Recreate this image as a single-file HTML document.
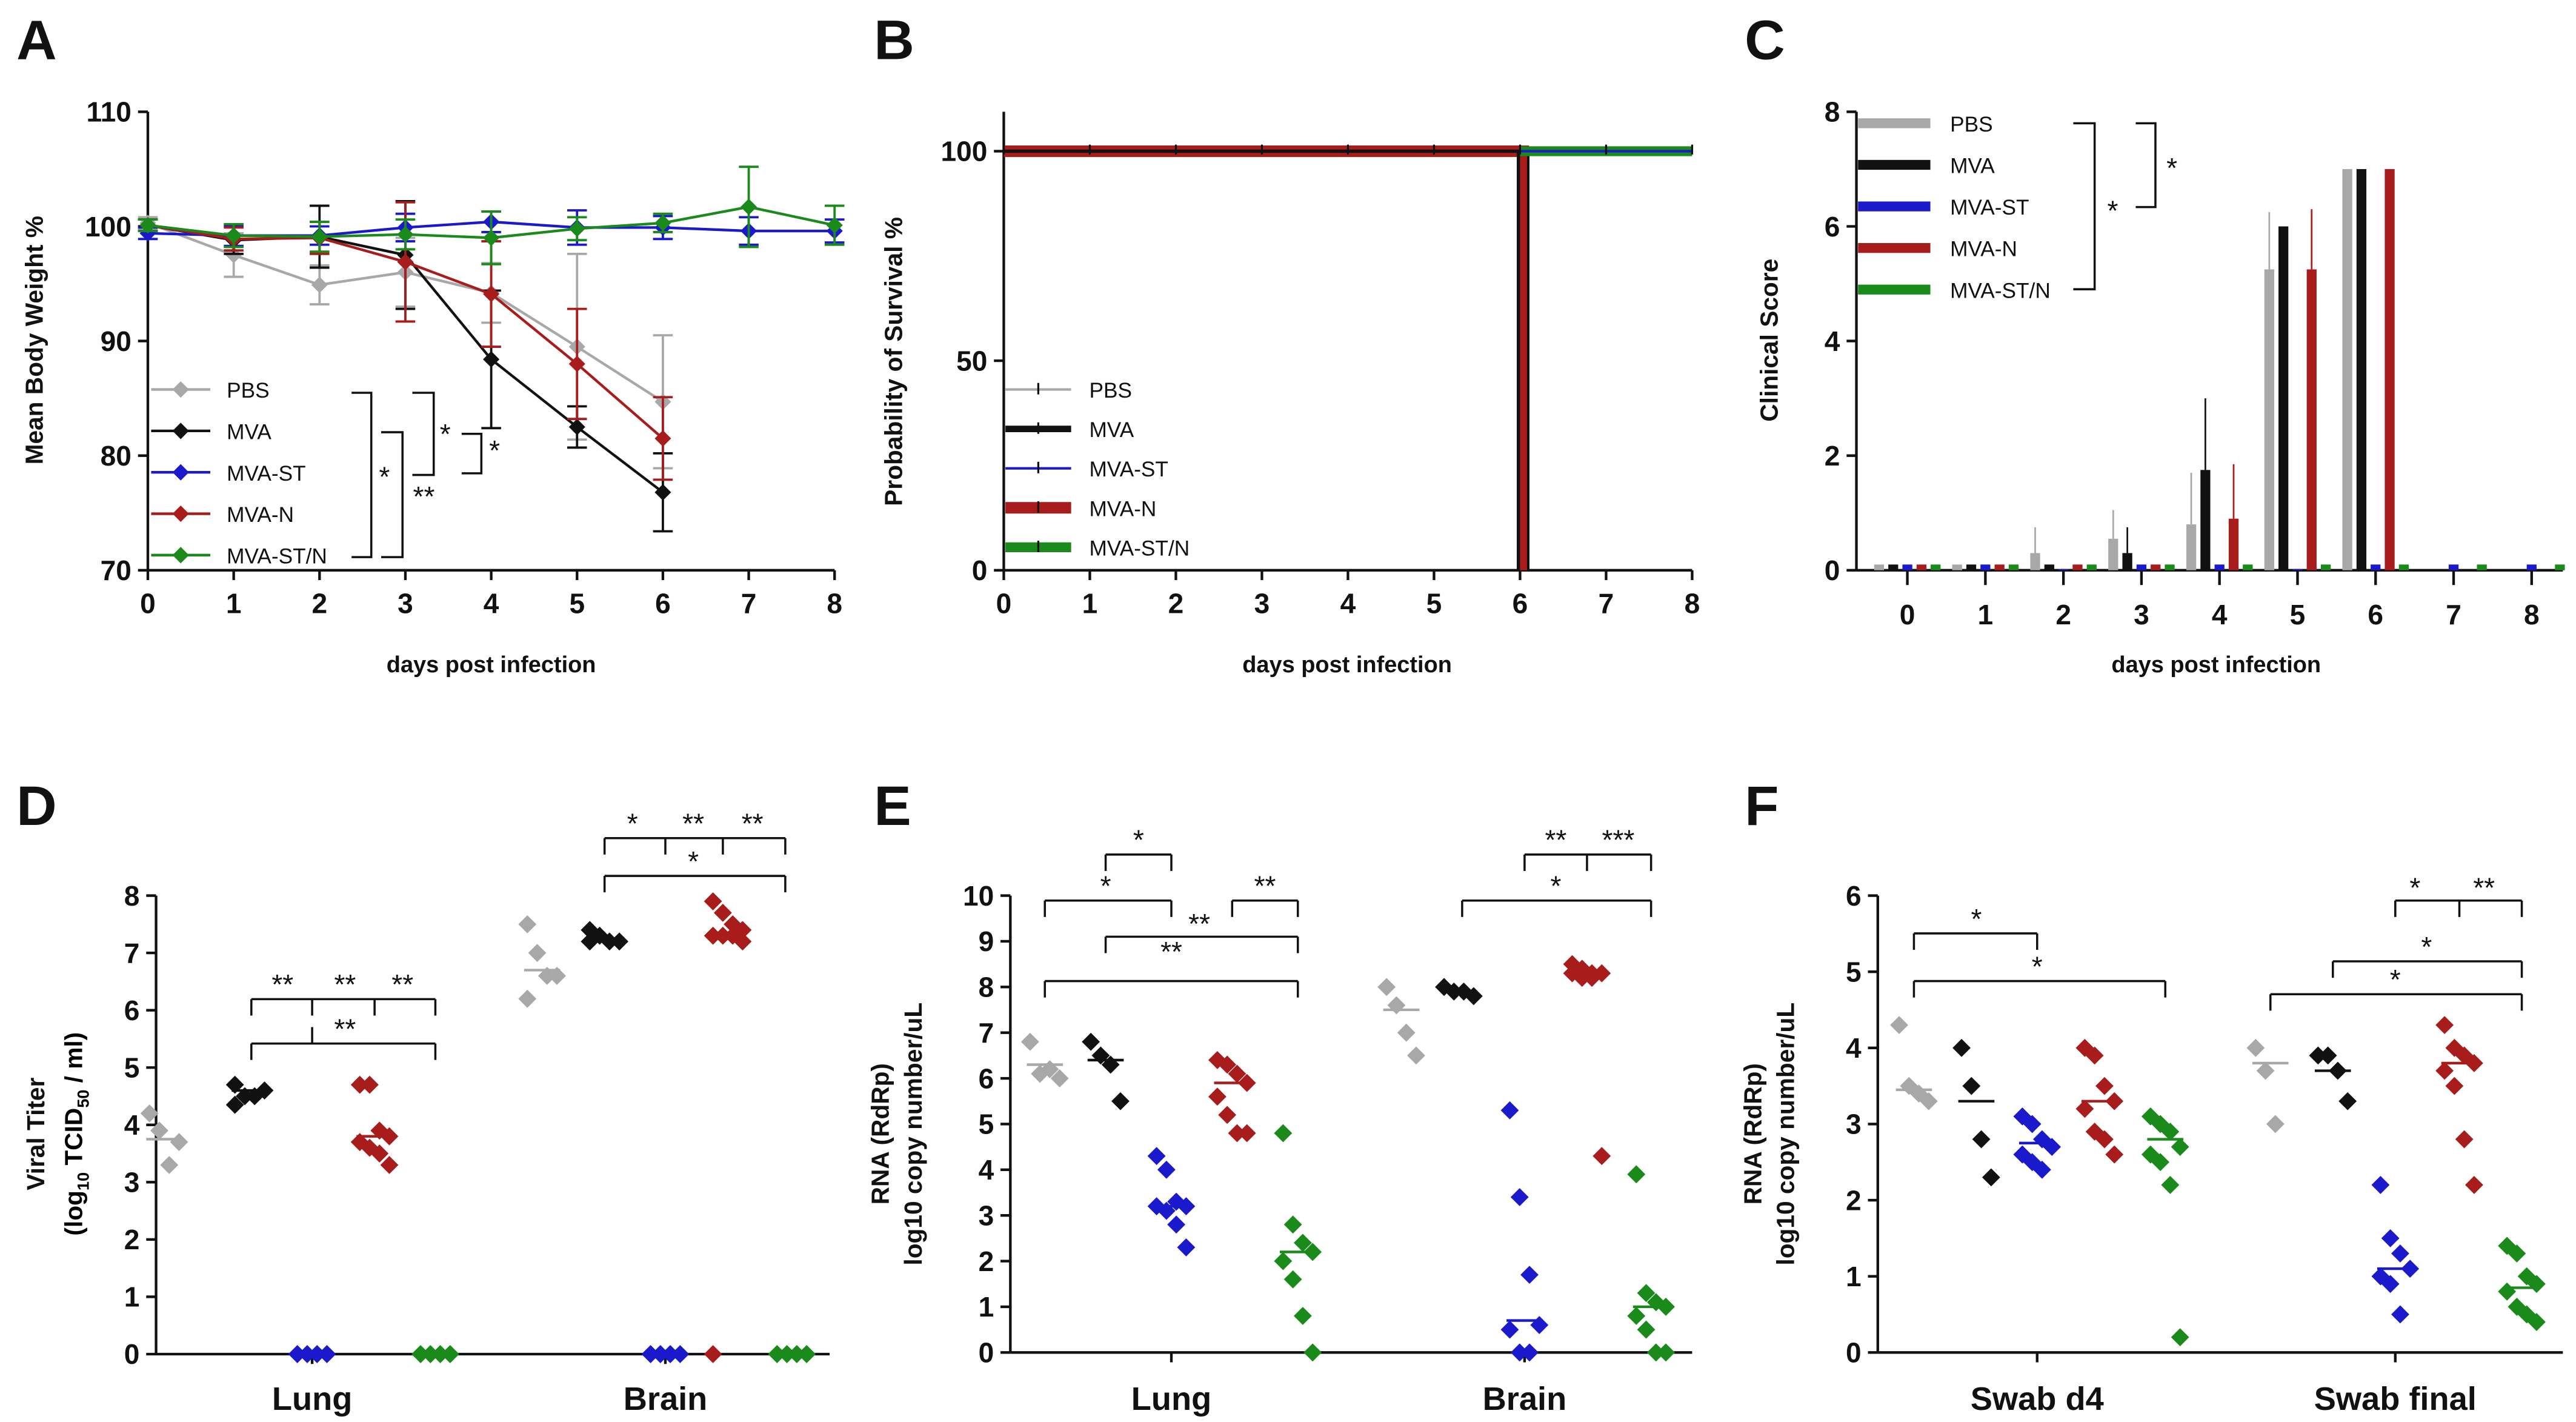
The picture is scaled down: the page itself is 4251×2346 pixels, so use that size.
<!DOCTYPE html>
<html><head><meta charset="utf-8"><style>html,body{margin:0;padding:0;background:#fff}svg{display:block}</style></head>
<body>
<svg id="fig" xmlns="http://www.w3.org/2000/svg" width="4251" height="2346" viewBox="0 0 1568 865.3" font-family="'Liberation Sans', sans-serif">
<rect width="1568" height="866" fill="#fff"/>
</svg>
<script>
// ---------- data ----------
const groups = ["PBS","MVA","MVA-ST","MVA-N","MVA-ST/N"];
const colors = ["#a8a8a8","#111111","#1a1acc","#a81c1c","#1a8a1a"];
const days = [0,1,2,3,4,5,6,7,8];
// Panel A means and SD
const wPBS  = [100.3,97.5,94.9,96.0,94.2,89.5,84.7];
const wMVA  = [100.1,98.8,99.1,97.5,88.4,82.5,76.8];
const wST   = [99.4,99.2,99.2,99.9,100.4,99.9,99.9,99.6,99.6];
const wN    = [100.1,98.9,99.0,96.9,94.1,88.0,81.5];
const wSTN  = [100.1,99.2,99.1,99.3,99.0,99.8,100.3,101.7,100.1];
const ePBS  = [0.5,1.9,1.7,3.0,2.6,8.1,5.8];
const eMVA  = [0.5,1.2,2.7,4.7,6.0,1.8,3.4];
const eST   = [0.5,0.9,0.8,1.2,0.9,1.5,1.0,1.2,1.0];
const eN    = [0.5,1.0,1.4,5.2,4.6,4.8,3.6];
const eSTN  = [0.5,1.0,1.3,1.3,2.3,1.0,0.8,3.5,1.7];
// Panel C clinical score
const cPBS = [0.1,0.1,0.3,0.55,0.8,5.25,7,0,0];
const cMVA = [0.1,0.1,0.1,0.3,1.75,6,7,0,0];
const cST  = [0.1,0.1,0.02,0.1,0.1,0.02,0.1,0.1,0.1];
const cN   = [0.1,0.1,0.1,0.1,0.9,5.25,7,0,0];
const cSTN = [0.1,0.1,0.1,0.1,0.1,0.1,0.1,0.1,0.1];
const ceP  = [0,0,0.45,0.5,0.9,1.0,0,0,0];
const ceM  = [0,0,0,0.45,1.25,0,0,0,0];
const ceN  = [0,0,0,0,0.95,1.05,0,0,0];
// Panel D viral titer
const dLung = [[4.2,3.9,3.3,3.7],[4.7,4.5,4.5,4.6,4.35],[0,0,0,0,0,0,0,0],[4.7,4.7,3.9,3.8,3.7,3.6,3.5,3.3],[0,0,0,0,0,0,0,0]];
const dBrain = [[7.5,7.0,6.6,6.6,6.2],[7.4,7.3,7.2,7.2,7.2],[0,0,0,0,0,0,0],[7.9,7.7,7.5,7.4,7.3,7.3,7.3,7.2,0],[0,0,0,0,0,0,0,0]];
const dMeanL = [3.75,4.6,0,3.8,0];
const dMeanB = [6.7,7.25,0,7.35,0];
// Panel E RNA
const eLung = [[6.8,6.1,6.2,6.0],[6.8,6.5,6.3,5.5],[4.3,4.0,3.3,3.2,3.2,3.1,2.8,2.3],[6.4,6.3,6.1,5.9,5.6,5.2,4.8,4.8],[4.8,2.8,2.4,2.2,2.0,1.6,0.8,0.0]];
const eBrain = [[8.0,7.6,7.0,6.5],[8.0,7.9,7.9,7.8],[5.3,3.4,1.7,0.6,0.5,0.0,0.0],[8.5,8.4,8.3,8.3,8.3,8.2,8.2,4.3],[3.9,1.3,1.1,1.0,0.8,0.5,0.0,0.0]];
const eMeanL = [6.3,6.4,3.2,5.9,2.2];
const eMeanB = [7.5,7.9,0.7,8.3,1.0];
// Panel F RNA swabs
const fD4 = [[4.3,3.5,3.4,3.3],[4.0,3.5,2.8,2.3],[3.1,3.0,2.8,2.7,2.6,2.5,2.4],[4.0,3.9,3.5,3.3,3.2,2.9,2.8,2.6],[3.1,3.0,2.9,2.7,2.6,2.5,2.2,0.2]];
const fFin = [[4.0,3.7,3.0],[3.9,3.9,3.7,3.3],[2.2,1.5,1.3,1.1,1.0,0.9,0.5],[4.3,4.0,3.9,3.8,3.7,3.5,2.8,2.2],[1.4,1.3,1.0,0.9,0.8,0.6,0.5,0.4]];
const fMeanD4 = [3.45,3.3,2.75,3.3,2.8];
const fMeanFin = [3.8,3.7,1.1,3.8,0.85];
const tA = [70,80,90,100,110];
const tB = [0,50,100];
const tC = [0,2,4,6,8];
const tD = [0,1,2,3,4,5,6,7,8];
const tE = [0,1,2,3,4,5,6,7,8,9,10];
const tF = [0,1,2,3,4,5,6];

// ---------- helpers ----------
const svg = document.getElementById('fig');
const NS = "http://www.w3.org/2000/svg";
function mk(tag, attrs, name, parent){
  const e = document.createElementNS(NS, tag);
  for (const k in attrs) e.setAttribute(k, attrs[k]);
  
  
  (parent||svg).appendChild(e);
  return e;
}
function txt(x,y,s,size,name,opt){
  opt = opt||{};
  const t = mk('text',{x:x,y:y,'font-size':size,'font-weight':opt.w||'bold','text-anchor':opt.a||'middle',fill:opt.f||'#111'},name);
  if (opt.rot) t.setAttribute('transform','rotate(-90 '+x+' '+y+')');
  t.textContent = s;
  return t;
}
function ln(x1,y1,x2,y2,c,w,name){ return mk('line',{x1:x1,y1:y1,x2:x2,y2:y2,stroke:c,'stroke-width':w},name); }
function dia(x,y,r,c,name){ return mk('path',{d:`M${x} ${y-r}L${x+r} ${y}L${x} ${y+r}L${x-r} ${y}Z`,fill:c},name); }
function yAxis(x,y0,y1,ticks,sc,name){
  ln(x,y0,x,y1,'#111',1.6,name+'-line');
  ticks.forEach(t=>{ ln(x-6,sc(t),x,sc(t),'#111',1.6,name+'-tick'); txt(x-10,sc(t)+6,String(t),17,name+'-label',{a:'end'}); });
}
function bracket(x1,x2,y,ticks,name){
  ln(x1,y,x2,y,'#111',1.3,name);
  ticks.forEach(t=>ln(t,y,t,y+10,'#111',1.3,name+'-tick'));
}
function star(x,y,s,name){ txt(x,y,s,17,name,{w:'normal'}); }

// ---------- panel letters ----------
[['A',10,36],['B',532,36],['C',1062,36],['D',10,502],['E',532,502],['F',1062,502]].forEach(p=>txt(p[1],p[2],p[0],34,'panel-label-'+p[0].toLowerCase(),{a:'start'}));

// ---------- Panel A ----------
{
  const X = d=>90+d*(418/8), Y = v=>347-(v-70)*(279/40);
  yAxis(90,68,347,tA,Y,'a-y-axis');
  ln(90,347,508,347,'#111',1.6,'a-x-axis');
  days.forEach(d=>{ ln(X(d),347,X(d),353,'#111',1.6,'a-x-tick'); txt(X(d),373,String(d),17,'a-x-label'); });
  txt(299,409,'days post infection',14,'a-x-title');
  txt(26,207,'Mean Body Weight %',15,'a-y-title',{rot:true});
  const ser=[wPBS,wMVA,wST,wN,wSTN], err=[ePBS,eMVA,eST,eN,eSTN];
  ser.forEach((s,g)=>{
    const c=colors[g];
    s.forEach((v,i)=>{ const x=X(i); ln(x,Y(v-err[g][i]),x,Y(v+err[g][i]),c,1.4,'a-errorbar-'+groups[g]); ln(x-6,Y(v-err[g][i]),x+6,Y(v-err[g][i]),c,1.4,'a-errorcap'); ln(x-6,Y(v+err[g][i]),x+6,Y(v+err[g][i]),c,1.4,'a-errorcap'); });
    mk('polyline',{points:s.map((v,i)=>X(i)+','+Y(v)).join(' '),fill:'none',stroke:c,'stroke-width':1.6},'a-line-'+groups[g]);
    s.forEach((v,i)=>dia(X(i),Y(v),5,c,'a-point-'+groups[g]));
  });
  groups.forEach((n,g)=>{ const y=237+g*25.2; ln(92,y,128,y,colors[g],1.6,'a-legend-line'); dia(110,y,5,colors[g],'a-legend-marker'); txt(138,y+5,n,13,'a-legend-text-'+n,{a:'start',w:'normal'}); });
  mk('polyline',{points:'214,239 226,239 226,339 214,339',fill:'none',stroke:'#111','stroke-width':1.3},'a-bracket');
  mk('polyline',{points:'232,263 245,263 245,339 232,339',fill:'none',stroke:'#111','stroke-width':1.3},'a-bracket');
  mk('polyline',{points:'251,239 264,239 264,289 251,289',fill:'none',stroke:'#111','stroke-width':1.3},'a-bracket');
  mk('polyline',{points:'281,264 293,264 293,288 281,288',fill:'none',stroke:'#111','stroke-width':1.3},'a-bracket');
  star(234,296,'*','a-sig'); star(258,308,'**','a-sig'); star(271,270,'*','a-sig'); star(301,280,'*','a-sig');
}

// ---------- Panel B ----------
{
  const X = d=>611+d*(419/8), Y = v=>347-v*2.55;
  yAxis(611,68,347,tB,Y,'b-y-axis');
  ln(611,347,1030,347,'#111',1.6,'b-x-axis');
  days.forEach(d=>{ ln(X(d),347,X(d),353,'#111',1.6,'b-x-tick'); txt(X(d),373,String(d),17,'b-x-label'); });
  txt(820,409,'days post infection',14,'b-x-title');
  txt(549,220,'Probability of Survival %',15,'b-y-title',{rot:true});
  mk('polyline',{points:`${X(0)},${Y(100)} ${X(6)+2},${Y(100)} ${X(6)+2},${Y(0)}`,fill:'none',stroke:'#a81c1c','stroke-width':7},'b-curve-MVA-N');
  mk('polyline',{points:`${X(0)},${Y(100)} ${X(6)-1},${Y(100)} ${X(6)-1},${Y(0)}`,fill:'none',stroke:'#111','stroke-width':2},'b-curve-MVA');
  mk('polyline',{points:`${X(0)},${Y(100)} ${X(6)+5},${Y(100)} ${X(6)+5},${Y(0)}`,fill:'none',stroke:'#111','stroke-width':1.5},'b-curve-PBS');
  ln(X(6),Y(100),X(8),Y(100),'#1a8a1a',6,'b-curve-MVA-ST/N');
  ln(X(6),Y(100),X(8),Y(100),'#1a1acc',1.5,'b-curve-MVA-ST');
  days.forEach(d=>ln(X(d),Y(100)-4,X(d),Y(100)+2,'#111',1.2,'b-censor-tick'));
  const lw=[1.5,4,1.5,7,6];
  groups.forEach((n,g)=>{ const y=237+g*24; ln(612,y,652,y,colors[g],lw[g],'b-legend-line'); ln(632,y-4,632,y+3,'#111',1.2,'b-legend-tick'); txt(663,y+5,n,13,'b-legend-text-'+n,{a:'start',w:'normal'}); });
}

// ---------- Panel C ----------
{
  const X = d=>1161+d*47.5, Y = v=>347-v*(279/8), bw=6, off=8.6;
  yAxis(1130,68,347,tC,Y,'c-y-axis');
  ln(1130,347,1560,347,'#111',1.6,'c-x-axis');
  days.forEach(d=>{ ln(X(d),347,X(d),356,'#111',1.6,'c-x-tick'); txt(X(d),380,String(d),17,'c-x-label'); });
  txt(1349,409,'days post infection',14,'c-x-title');
  txt(1082,207,'Clinical Score',15,'c-y-title',{rot:true});
  const ser=[cPBS,cMVA,cST,cN,cSTN], er=[ceP,ceM,null,ceN,null];
  ser.forEach((s,g)=>s.forEach((v,i)=>{
    const x=X(i)+(g-2)*off;
    if (er[g] && er[g][i]>0) ln(x,Y(v),x,Y(v+er[g][i]),colors[g],1,'c-errorbar');
    if (v>0) mk('rect',{x:x-bw/2,y:Y(v),width:bw,height:347-Y(v),fill:colors[g]},'c-bar-'+groups[g]+'-day'+i);
  }));
  groups.forEach((n,g)=>{ const y=75+g*25.3; mk('rect',{x:1131,y:y-3,width:44,height:6,fill:colors[g]},'c-legend-swatch'); txt(1187,y+5,n,13,'c-legend-text-'+n,{a:'start',w:'normal'}); });
  mk('polyline',{points:'1262,75 1275,75 1275,176 1262,176',fill:'none',stroke:'#111','stroke-width':1.3},'c-bracket');
  mk('polyline',{points:'1300,75 1312,75 1312,126 1300,126',fill:'none',stroke:'#111','stroke-width':1.3},'c-bracket');
  star(1286,134,'*','c-sig'); star(1322,108,'*','c-sig');
}

// ---------- scatter helper ----------
function scatter(pfx, cats, centers, data, means, Y, x0, x1, ticks, max){
  yAxis(x0,Y(max),Y(0),ticks,Y,pfx+'-y-axis');
  ln(x0,Y(0),x1,Y(0),'#111',1.6,pfx+'-x-axis');
  cats.forEach((c,k)=>{ const cx=centers[k][2]; ln(cx,Y(0),cx,Y(0)+6,'#111',1.6,pfx+'-x-tick'); txt(cx,858,c,20,pfx+'-category-'+c.toLowerCase().replace(/ /g,'-')); });
  data.forEach((set,k)=>set.forEach((pts,g)=>{
    const cx=centers[k][g];
    ln(cx-11,Y(means[k][g]),cx+11,Y(means[k][g]),colors[g],1.6,pfx+'-mean-'+groups[g]);
    pts.forEach((v,i)=>{ const j=((i%4)-1.5)*6; dia(cx+j,Y(v),5.5,colors[g],pfx+'-point-'+groups[g]); });
  }));
}

// ---------- Panel D ----------
{
  const Y=v=>824-v*(279/8);
  scatter('d',['Lung','Brain'],[[100,152,190,228,265],[330,368,405,443,482]],[dLung,dBrain],[dMeanL,dMeanB],Y,95,505,tD,8);
  txt(27,690,'Viral Titer',15,'d-y-title',{rot:true});
  const t=mk('text',{x:50,y:690,'font-size':15,'font-weight':'bold','text-anchor':'middle',transform:'rotate(-90 50 690)'},'d-y-subtitle');
  t.innerHTML='(log<tspan font-size="10" dy="4">10</tspan><tspan dy="-4"> TCID</tspan><tspan font-size="10" dy="4">50</tspan><tspan dy="-4"> / ml)</tspan>';
  bracket(153,265,608,[153,190,228,265],'d-bracket'); star(172,605,'**','d-sig'); star(210,605,'**','d-sig'); star(245,605,'**','d-sig');
  bracket(153,265,635,[153,265],'d-bracket'); ln(190,625,190,635,'#111',1.3,'d-bracket'); star(210,632,'**','d-sig');
  bracket(368,478,510,[368,405,440,478],'d-bracket'); star(385,507,'*','d-sig'); star(422,507,'**','d-sig'); star(458,507,'**','d-sig');
  bracket(368,478,533,[368,478],'d-bracket'); star(422,530,'*','d-sig');
}

// ---------- Panel E ----------
{
  const Y=v=>823-v*27.8;
  scatter('e',['Lung','Brain'],[[636,673,713,750,790],[853,888,928,966,1005]],[eLung,eBrain],[eMeanL,eMeanB],Y,615,1030,tE,10);
  txt(541,690,'RNA (RdRp)',15,'e-y-title',{rot:true});
  txt(561,690,'log10 copy number/uL',15,'e-y-subtitle',{rot:true});
  bracket(673,713,520,[673,713],'e-bracket'); star(693,517,'*','e-sig');
  bracket(636,713,548,[636,713],'e-bracket'); star(673,545,'*','e-sig');
  bracket(750,790,548,[750,790],'e-bracket'); star(770,545,'**','e-sig');
  bracket(673,790,570,[673,790],'e-bracket'); star(730,568,'**','e-sig');
  bracket(636,790,597,[636,790],'e-bracket'); star(713,585,'**','e-sig');
  bracket(928,1005,520,[928,966,1005],'e-bracket'); star(947,517,'**','e-sig'); star(985,517,'***','e-sig');
  bracket(890,1005,548,[890,1005],'e-bracket'); star(947,545,'*','e-sig');
}

// ---------- Panel F ----------
{
  const Y=v=>823-v*(278/6);
  scatter('f',['Swab d4','Swab final'],[[1165,1203,1240,1278,1318],[1382,1420,1458,1497,1535]],[fD4,fFin],[fMeanD4,fMeanFin],Y,1143,1560,tF,6);
  txt(1072,690,'RNA (RdRp)',15,'f-y-title',{rot:true});
  txt(1092,690,'log10 copy number/uL',15,'f-y-subtitle',{rot:true});
  bracket(1165,1240,568,[1165,1240],'f-bracket'); star(1203,565,'*','f-sig');
  bracket(1165,1318,597,[1165,1318],'f-bracket'); star(1240,594,'*','f-sig');
  bracket(1458,1535,548,[1458,1497,1535],'f-bracket'); star(1470,546,'*','f-sig'); star(1512,546,'**','f-sig');
  bracket(1420,1535,585,[1420,1535],'f-bracket'); star(1477,582,'*','f-sig');
  bracket(1382,1535,605,[1382,1535],'f-bracket'); star(1458,602,'*','f-sig');
}
</script>
</body></html>
